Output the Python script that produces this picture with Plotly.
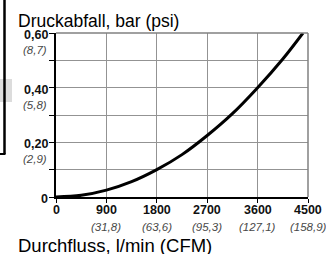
import plotly.graph_objects as go

# Data
flow_lpm = [0, 450, 900, 1350, 1800, 2250, 2700, 3150, 3600, 4050, 4410]
drop_bar = [0, 0.006, 0.025, 0.056, 0.10, 0.155, 0.225, 0.305, 0.40, 0.505, 0.60]

x_ticks = [0, 900, 1800, 2700, 3600, 4500]
x_labels = ["0", "900", "1800", "2700", "3600", "4500"]
x_sub = ["", "(31,8)", "(63,6)", "(95,3)", "(127,1)", "(158,9)"]

y_ticks = [0, 0.2, 0.4, 0.6]
y_labels = ["0", "0,20", "0,40", "0,60"]
y_sub = ["", "(2,9)", "(5,8)", "(8,7)"]

y_title = "Druckabfall, bar (psi)"
x_title = "Durchfluss, l/min (CFM)"

W, H = 326, 254
ML, MR, MT, MB = 56, 18, 33, 57
PW, PH = W - ML - MR, H - MT - MB

def px_x(p):
    return (p - ML) / PW

def px_y(p):
    return (H - MB - p) / PH

FONT = "Liberation Sans, Arial, sans-serif"

fig = go.Figure()
fig.add_trace(go.Scatter(
    x=flow_lpm, y=drop_bar, mode="lines",
    line=dict(color="black", width=3, shape="spline"),
    hoverinfo="skip", showlegend=False,
))

ann = []
for v, t, s in zip(x_ticks, x_labels, x_sub):
    ann.append(dict(x=v, y=0, xref="x", yref="y", text="<b>" + t + "</b>",
                    showarrow=False, xanchor="center", yanchor="middle", yshift=-13,
                    font=dict(family=FONT, size=12.5, color="#111")))
    if s:
        ann.append(dict(x=v, y=0, xref="x", yref="y", text="<i>" + s + "</i>",
                        showarrow=False, xanchor="center", yanchor="middle", yshift=-30,
                        font=dict(family=FONT, size=11.5, color="#484848")))
for v, t, s in zip(y_ticks, y_labels, y_sub):
    ann.append(dict(x=0, y=v, xref="paper", yref="y", text="<b>" + t + "</b>",
                    showarrow=False, xanchor="right", yanchor="middle", xshift=-6, yshift=-2,
                    font=dict(family=FONT, size=12.5, color="#111")))
    if s:
        ann.append(dict(x=0, y=v, xref="paper", yref="y", text="<i>" + s + "</i>",
                        showarrow=False, xanchor="right", yanchor="middle", xshift=-7, yshift=-17,
                        font=dict(family=FONT, size=11.5, color="#484848")))

ann.append(dict(x=px_x(16), y=px_y(21), xref="paper", yref="paper", text=y_title,
                showarrow=False, xanchor="left", yanchor="middle",
                font=dict(family=FONT, size=17.5, color="black")))
ann.append(dict(x=px_x(16), y=px_y(245.5), xref="paper", yref="paper", text=x_title,
                showarrow=False, xanchor="left", yanchor="middle",
                font=dict(family=FONT, size=18.5, color="black")))

shapes = [
    # top and right frame
    dict(type="line", xref="paper", yref="paper", x0=0, x1=1, y0=1, y1=1,
         line=dict(color="#808080", width=1.5)),
    dict(type="line", xref="paper", yref="paper", x0=1, x1=1, y0=0, y1=1,
         line=dict(color="#808080", width=1.5)),
    # neighbouring-panel remnants at the left edge
    dict(type="rect", xref="paper", yref="paper", x0=px_x(0), x1=px_x(12),
         y0=px_y(102), y1=px_y(79), fillcolor="#dcdcdc", line=dict(width=0), layer="below"),
    dict(type="line", xref="paper", yref="paper", x0=px_x(4.5), x1=px_x(4.5),
         y0=px_y(0), y1=px_y(154), line=dict(color="black", width=2.5)),
    dict(type="line", xref="paper", yref="paper", x0=px_x(0), x1=px_x(5.5),
         y0=px_y(154), y1=px_y(154), line=dict(color="black", width=2)),
]

fig.update_layout(
    width=W, height=H,
    margin=dict(l=ML, r=MR, t=MT, b=MB, pad=0),
    paper_bgcolor="white", plot_bgcolor="white",
    font=dict(family=FONT),
    annotations=ann, shapes=shapes,
    xaxis=dict(range=[0, 4500], tickmode="linear", tick0=0, dtick=900,
               showticklabels=False, ticks="outside", ticklen=4, tickcolor="black",
               showgrid=True, gridcolor="#939393", gridwidth=1,
               showline=True, linecolor="black", linewidth=2, zeroline=False,
               fixedrange=True),
    yaxis=dict(range=[0, 0.6], tickmode="linear", tick0=0, dtick=0.1,
               showticklabels=False, ticks="outside", ticklen=5, tickcolor="black",
               showgrid=True, gridcolor="#939393", gridwidth=1,
               showline=True, linecolor="black", linewidth=2, zeroline=False,
               fixedrange=True),
)

fig.write_html("out.html", config={"displayModeBar": False},
               post_script="document.body.style.margin='0';document.body.style.overflow='hidden';")
